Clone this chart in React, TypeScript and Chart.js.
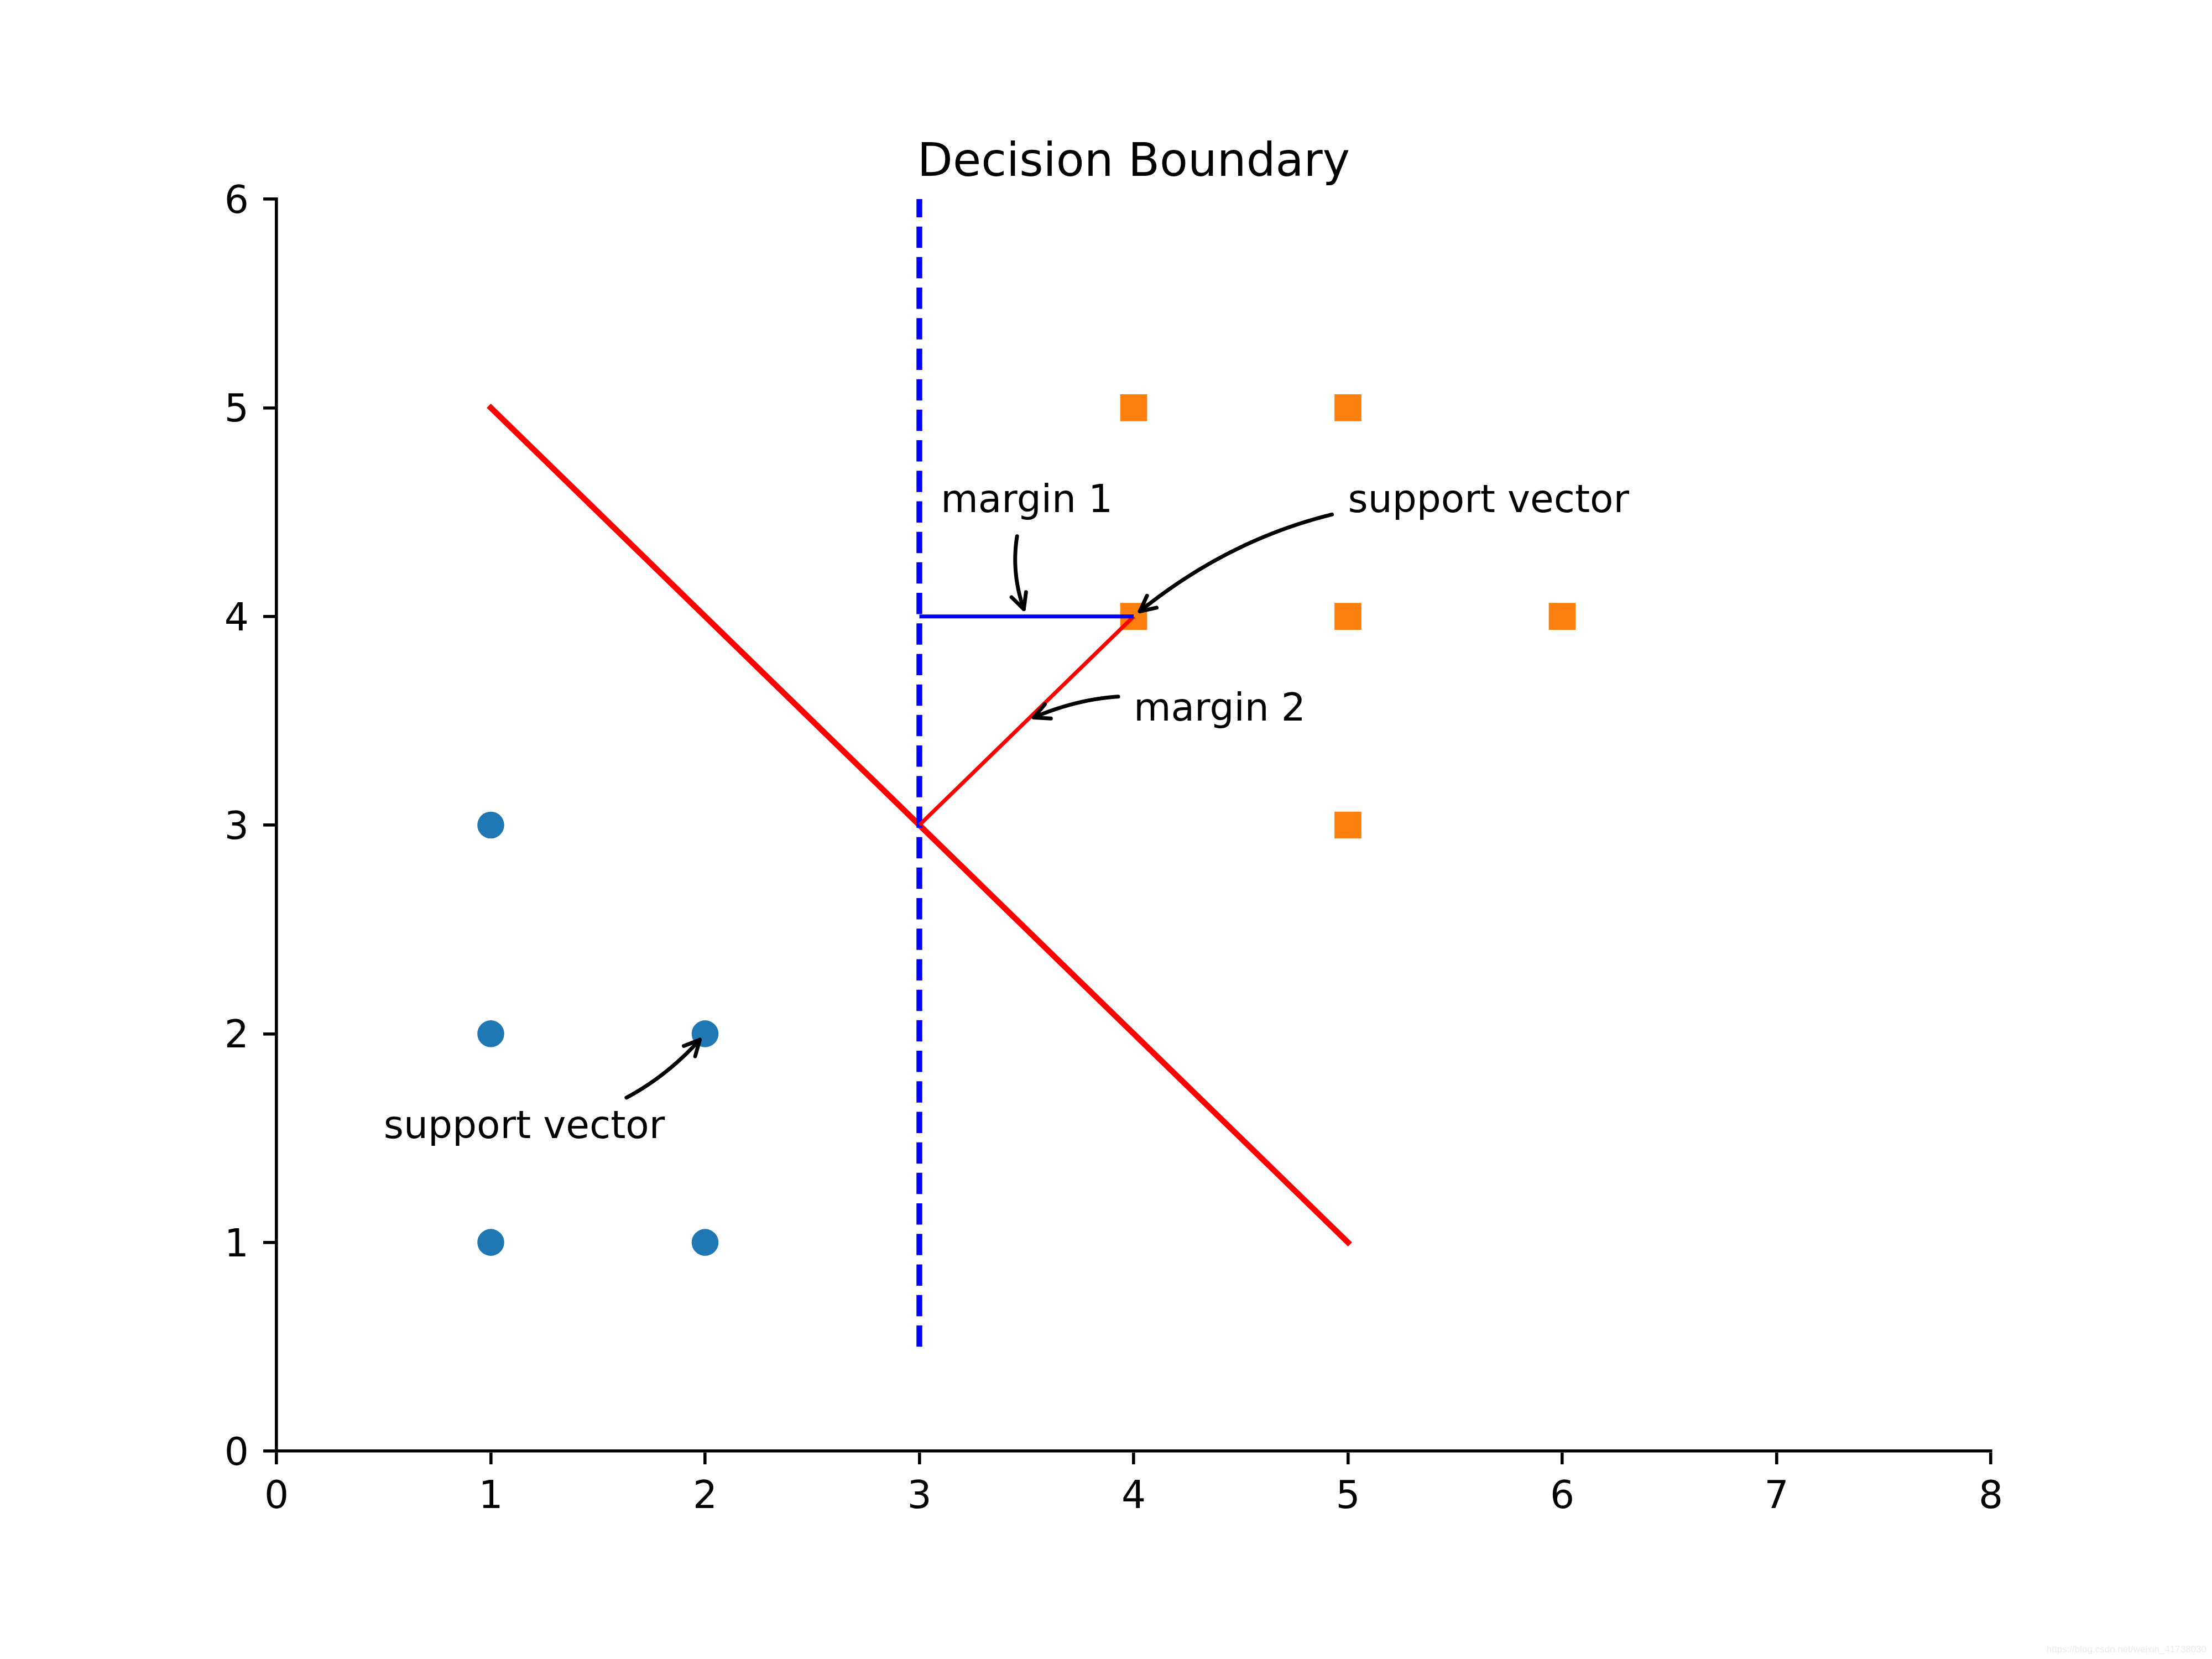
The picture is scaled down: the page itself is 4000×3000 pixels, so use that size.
import React, { useEffect, useRef } from "react";
import { Chart, registerables } from "chart.js";

Chart.register(...registerables);

// ---- data ----
const class0X = [1, 1, 1, 2, 2];
const class0Y = [1, 2, 3, 1, 2];
const class1X = [4, 4, 5, 5, 5, 6];
const class1Y = [4, 5, 3, 4, 5, 4];
const boundaryX = [1, 5];
const boundaryY = [5, 1];
const dividerX = [3, 3];
const dividerY = [0.5, 6];
const margin1X = [3, 4];
const margin1Y = [4, 4];
const margin2X = [3, 4];
const margin2Y = [3, 4];
const xTickValues = [0, 1, 2, 3, 4, 5, 6, 7, 8];
const yTickValues = [0, 1, 2, 3, 4, 5, 6];
const titleText = "Decision Boundary";
const annotationTexts = ["margin 1", "support vector", "margin 2", "support vector"];
const annotationTargetX = [3.5, 4, 3.5, 2];
const annotationTargetY = [4, 4, 3.5, 2];
const annotationTextX = [3.1, 5, 4, 0.5];
const annotationTextY = [4.5, 4.5, 3.5, 1.5];
const watermarkText = "https://blog.csdn.net/weixin_41738030";

const zip = (xs: number[], ys: number[]) => xs.map((x, i) => ({ x, y: ys[i] }));

const FONT = '"DejaVu Sans", sans-serif';
const TICK_PX = 69.4;
const TITLE_PX = 83.3;
const LW1 = 6.94;
const LW15 = 10.4;
const SPINE = 5.6;

function drawArrowAnnotation(
  ctx: CanvasRenderingContext2D,
  text: string,
  tx: number,
  ty: number,
  ex: number,
  ey: number,
  fpx: number
) {
  ctx.save();
  ctx.font = `${fpx}px ${FONT}`;
  ctx.textAlign = "left";
  ctx.textBaseline = "alphabetic";
  ctx.fillStyle = "#000";
  ctx.fillText(text, tx, ty);
  const w = ctx.measureText(text).width;
  const asc = 0.76 * fpx;
  const desc = 0.23 * fpx;
  const bx0 = tx, bx1 = tx + w, by0 = ty - asc, by1 = ty + desc;
  const half = 0.2 * fpx;
  const rx0 = bx0 - half, rx1 = bx1 + half, ry0 = by0 - half, ry1 = by1 + half;
  const sx = (bx0 + bx1) / 2, sy = (by0 + by1) / 2;
  const f = 0.2;
  const mx = (sx + ex) / 2, my = (sy + ey) / 2;
  const cx = mx - f * (ey - sy);
  const cy = my + f * (ex - sx);
  const N = 600;
  const pts: { x: number; y: number; t: number }[] = [];
  for (let i = 0; i <= N; i++) {
    const t = i / N;
    const a = (1 - t) * (1 - t), b = 2 * (1 - t) * t, c = t * t;
    pts.push({ x: a * sx + b * cx + c * ex, y: a * sy + b * cy + c * ey, t });
  }
  const inside = (p: { x: number; y: number }) => p.x >= rx0 && p.x <= rx1 && p.y >= ry0 && p.y <= ry1;
  let i0 = 0;
  while (i0 < N && inside(pts[i0])) i0++;
  const shrink = 0.2 * fpx;
  let acc = 0;
  let s = i0;
  while (s < N && acc < shrink) {
    acc += Math.hypot(pts[s + 1].x - pts[s].x, pts[s + 1].y - pts[s].y);
    s++;
  }
  acc = 0;
  let e = N;
  while (e > s && acc < shrink) {
    acc += Math.hypot(pts[e].x - pts[e - 1].x, pts[e].y - pts[e - 1].y);
    e--;
  }
  ctx.strokeStyle = "#000";
  ctx.lineWidth = LW1;
  ctx.lineCap = "round";
  ctx.lineJoin = "round";
  ctx.beginPath();
  ctx.moveTo(pts[s].x, pts[s].y);
  for (let i = s + 1; i <= e; i++) ctx.lineTo(pts[i].x, pts[i].y);
  ctx.stroke();
  // arrow head
  const tt = pts[e].t;
  const dx = 2 * (1 - tt) * (cx - sx) + 2 * tt * (ex - cx);
  const dy = 2 * (1 - tt) * (cy - sy) + 2 * tt * (ey - cy);
  const L = Math.hypot(dx, dy) || 1;
  const ux = -dx / L, uy = -dy / L;
  const nx = -uy, ny = ux;
  const hl = 0.4 * fpx, hw = 0.2 * fpx;
  const tipX = pts[e].x, tipY = pts[e].y;
  ctx.beginPath();
  ctx.moveTo(tipX + ux * hl + nx * hw, tipY + uy * hl + ny * hw);
  ctx.lineTo(tipX, tipY);
  ctx.lineTo(tipX + ux * hl - nx * hw, tipY + uy * hl - ny * hw);
  ctx.stroke();
  ctx.restore();
}

const decorPlugin = {
  id: "decor",
  afterDatasetsDraw(chart: any) {
    const ctx: CanvasRenderingContext2D = chart.ctx;
    const xs = chart.scales.x;
    const ys = chart.scales.y;
    for (let i = 0; i < annotationTexts.length; i++) {
      drawArrowAnnotation(
        ctx,
        annotationTexts[i],
        xs.getPixelForValue(annotationTextX[i]),
        ys.getPixelForValue(annotationTextY[i]),
        xs.getPixelForValue(annotationTargetX[i]),
        ys.getPixelForValue(annotationTargetY[i]),
        TICK_PX
      );
    }
    const area = chart.chartArea;
    ctx.save();
    ctx.font = `${TITLE_PX}px ${FONT}`;
    ctx.fillStyle = "#000";
    ctx.textAlign = "center";
    ctx.textBaseline = "alphabetic";
    ctx.fillText(titleText, (area.left + area.right) / 2, area.top - 41.7);
    ctx.font = '17px "Liberation Sans", Arial, sans-serif';
    ctx.fillStyle = "#ececec";
    ctx.textAlign = "right";
    ctx.fillText(watermarkText, chart.width - 10, chart.height - 12);
    ctx.restore();
  },
};

export default function App() {
  const ref = useRef<HTMLCanvasElement>(null);
  useEffect(() => {
    const canvas = ref.current!;
    const tickFont = { family: FONT, size: TICK_PX };
    const gridOpts = {
      drawOnChartArea: false,
      drawTicks: true,
      tickLength: 24,
      tickWidth: SPINE,
      tickColor: "#000",
      color: "#000",
      lineWidth: SPINE,
    };
    const chart = new Chart(canvas, {
      type: "scatter",
      data: {
        datasets: [
          {
            label: "margin1",
            data: zip(margin1X, margin1Y),
            showLine: true,
            borderColor: "#0000ff",
            borderWidth: LW1,
            pointRadius: 0,
            borderCapStyle: "butt",
          },
          {
            label: "margin2",
            data: zip(margin2X, margin2Y),
            showLine: true,
            borderColor: "#ff0000",
            borderWidth: LW1,
            pointRadius: 0,
            borderCapStyle: "butt",
          },
          {
            label: "divider",
            data: zip(dividerX, dividerY),
            showLine: true,
            borderColor: "#0000ff",
            borderWidth: LW15,
            borderDash: [38.5, 16.7],
            borderCapStyle: "butt",
            pointRadius: 0,
          },
          {
            label: "boundary",
            data: zip(boundaryX, boundaryY),
            showLine: true,
            borderColor: "#ff0000",
            borderWidth: LW15,
            borderCapStyle: "square",
            pointRadius: 0,
          },
          {
            label: "class1",
            data: zip(class1X, class1Y),
            pointStyle: "rect",
            pointRadius: 34.4,
            pointBackgroundColor: "#ff7f0e",
            pointBorderWidth: 0,
            backgroundColor: "#ff7f0e",
          },
          {
            label: "class0",
            data: zip(class0X, class0Y),
            pointStyle: "circle",
            pointRadius: 24.3,
            pointBackgroundColor: "#1f77b4",
            pointBorderWidth: 0,
            backgroundColor: "#1f77b4",
          },
        ] as any,
      },
      options: {
        animation: false,
        responsive: false,
        devicePixelRatio: 1,
        events: [],
        layout: { padding: { left: 400, right: 400, top: 360, bottom: 226 } },
        plugins: {
          legend: { display: false },
          tooltip: { enabled: false },
          title: { display: false },
        },
        scales: {
          x: {
            type: "linear",
            min: 0,
            max: 8,
            afterBuildTicks: (s: any) => {
              s.ticks = xTickValues.map((v) => ({ value: v }));
            },
            afterFit: (s: any) => {
              s.height = 150;
            },
            ticks: {
              color: "#000",
              font: tickFont,
              padding: 19,
              autoSkip: false,
              maxRotation: 0,
              callback: (v: any) => String(v),
            },
            grid: gridOpts,
            border: { display: true, color: "#000", width: SPINE },
          },
          y: {
            type: "linear",
            min: 0,
            max: 6,
            afterBuildTicks: (s: any) => {
              s.ticks = yTickValues.map((v) => ({ value: v }));
            },
            afterFit: (s: any) => {
              s.width = 100;
            },
            ticks: {
              color: "#000",
              font: tickFont,
              padding: 26,
              labelOffset: 7,
              autoSkip: false,
              callback: (v: any) => String(v),
            },
            grid: gridOpts,
            border: { display: true, color: "#000", width: SPINE },
          },
        },
      } as any,
      plugins: [decorPlugin],
    });
    return () => chart.destroy();
  }, []);
  return (
    <div style={{ position: "absolute", left: 0, top: 0, width: 4000, height: 3000, background: "#fff" }}>
      <canvas ref={ref} width={4000} height={3000} style={{ display: "block", width: 4000, height: 3000 }} />
    </div>
  );
}
